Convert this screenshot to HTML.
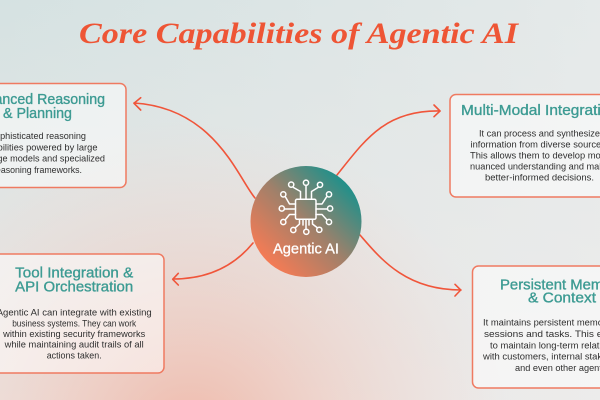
<!DOCTYPE html>
<html><head><meta charset="utf-8"><style>
html,body{margin:0;padding:0;width:600px;height:400px;overflow:hidden;background:#e3e6e5}
svg{display:block}
.t{font-family:"Liberation Sans",sans-serif;font-size:14.5px;fill:#3d9b93;stroke:#3d9b93;stroke-width:0.35;text-anchor:middle}
.b{font-family:"Liberation Sans",sans-serif;font-size:9px;fill:#2f2f2f;text-anchor:middle}
</style></head><body>
<svg width="600" height="400" viewBox="0 0 600 400" xmlns="http://www.w3.org/2000/svg">
<defs>
<linearGradient id="bg" x1="0" y1="0" x2="0" y2="1">
<stop offset="0" stop-color="#d5e2e2"/><stop offset="0.5" stop-color="#e1e5e4"/><stop offset="1" stop-color="#ebe8e6"/>
</linearGradient>
<linearGradient id="bgr" x1="0" y1="0" x2="1" y2="0">
<stop offset="0" stop-color="#e9eaea" stop-opacity="0"/><stop offset="1" stop-color="#eceded" stop-opacity="0.7"/>
</linearGradient>
<radialGradient id="pink" gradientUnits="userSpaceOnUse" cx="190" cy="440" r="320">
<stop offset="0" stop-color="#f0b3a2" stop-opacity="0.9"/><stop offset="0.45" stop-color="#f0c2b5" stop-opacity="0.5"/><stop offset="1" stop-color="#f0d0c8" stop-opacity="0"/>
</radialGradient>
<linearGradient id="circ" x1="0.15" y1="0.85" x2="0.85" y2="0.15">
<stop offset="0" stop-color="#f47b55"/><stop offset="0.5" stop-color="#a0806a"/><stop offset="1" stop-color="#22908a"/>
</linearGradient>
</defs>
<rect width="600" height="400" fill="url(#bg)"/>
<rect width="600" height="400" fill="url(#bgr)"/>
<rect width="600" height="400" fill="url(#pink)"/>

<text x="298.5" y="43" font-family="'Liberation Serif',serif" font-style="italic" font-weight="bold" font-size="30" fill="#ee5535" text-anchor="middle" textLength="439" lengthAdjust="spacingAndGlyphs">Core Capabilities of Agentic AI</text>

<!-- connectors -->
<g fill="none" stroke="#f0553a" stroke-width="1.6" stroke-linecap="round" stroke-linejoin="round">
<path d="M255,198 C238,178 215,108 134,103"/>
<path d="M140.7,97.7 L134,103.3 L140.7,110"/>
<path d="M337,175 C365,140 385,110 440,111"/>
<path d="M434,105 L440,111 L434,116.7"/>
<path d="M253,243 C235,265 210,279 173,279"/>
<path d="M178.3,273.3 L172.7,279.3 L178.3,285"/>
<path d="M360,235 C380,258 405,290 461,290"/>
<path d="M455,284.3 L460.7,290 L455,296"/>
</g>

<!-- boxes -->
<g fill="#ffffff" fill-opacity="0.5" stroke="#ef7a61" stroke-width="1.5">
<rect x="-51" y="83.5" width="177" height="104" rx="6"/>
<rect x="450" y="94.5" width="180" height="102.5" rx="6"/>
<rect x="-16" y="254" width="180" height="119" rx="6"/>
<rect x="472.5" y="266" width="180" height="122" rx="6"/>
</g>

<!-- box1 -->
<text class="t" x="37.5" y="104" textLength="135" lengthAdjust="spacingAndGlyphs">Advanced Reasoning</text>
<text class="t" x="37.5" y="118" textLength="69" lengthAdjust="spacingAndGlyphs">&amp; Planning</text>
<text class="b" x="37.5" y="139" textLength="97" lengthAdjust="spacingAndGlyphs">Sophisticated reasoning</text>
<text class="b" x="37.5" y="150.3" textLength="120" lengthAdjust="spacingAndGlyphs">capabilities powered by large</text>
<text class="b" x="37.5" y="161.6" textLength="135" lengthAdjust="spacingAndGlyphs">language models and specialized</text>
<text class="b" x="37.5" y="173" textLength="89" lengthAdjust="spacingAndGlyphs">reasoning frameworks.</text>

<!-- box2 -->
<text class="t" x="539.5" y="115" textLength="157" lengthAdjust="spacingAndGlyphs">Multi-Modal Integration</text>
<text class="b" x="539.5" y="136.5" textLength="121" lengthAdjust="spacingAndGlyphs">It can process and synthesize</text>
<text class="b" x="539.5" y="147.5" textLength="138" lengthAdjust="spacingAndGlyphs">information from diverse sources.</text>
<text class="b" x="539.5" y="158.5" textLength="139" lengthAdjust="spacingAndGlyphs">This allows them to develop more</text>
<text class="b" x="539.5" y="169.5" textLength="139" lengthAdjust="spacingAndGlyphs">nuanced understanding and make</text>
<text class="b" x="539.5" y="180.5" textLength="109" lengthAdjust="spacingAndGlyphs">better-informed decisions.</text>

<!-- box3 -->
<text class="t" x="74.2" y="277.5" textLength="118" lengthAdjust="spacingAndGlyphs">Tool Integration &amp;</text>
<text class="t" x="74.2" y="291.5" textLength="118" lengthAdjust="spacingAndGlyphs">API Orchestration</text>
<text class="b" x="74.2" y="315.7" textLength="155" lengthAdjust="spacingAndGlyphs">Agentic AI can integrate with existing</text>
<text class="b" x="74.2" y="326.3" textLength="124" lengthAdjust="spacingAndGlyphs">business systems. They can work</text>
<text class="b" x="74.2" y="337" textLength="142" lengthAdjust="spacingAndGlyphs">within existing security frameworks</text>
<text class="b" x="74.2" y="347.6" textLength="139" lengthAdjust="spacingAndGlyphs">while maintaining audit trails of all</text>
<text class="b" x="74.2" y="358.3" textLength="55" lengthAdjust="spacingAndGlyphs">actions taken.</text>

<!-- box4 -->
<text class="t" x="562" y="289.3" textLength="124" lengthAdjust="spacingAndGlyphs">Persistent Memory</text>
<text class="t" x="562" y="302.7" textLength="68" lengthAdjust="spacingAndGlyphs">&amp; Context</text>
<text class="b" x="562" y="325.7" textLength="158" lengthAdjust="spacingAndGlyphs">It maintains persistent memory across</text>
<text class="b" x="562" y="337" textLength="156" lengthAdjust="spacingAndGlyphs">sessions and tasks. This enables it</text>
<text class="b" x="562" y="348.4" textLength="144" lengthAdjust="spacingAndGlyphs">to maintain long-term relationships</text>
<text class="b" x="562" y="359.7" textLength="158" lengthAdjust="spacingAndGlyphs">with customers, internal stakeholders,</text>
<text class="b" x="562" y="371" textLength="94" lengthAdjust="spacingAndGlyphs">and even other agents.</text>

<!-- center circle -->
<circle cx="306" cy="221.5" r="55.5" fill="url(#circ)"/>
<g fill="none" stroke="#ffffff" stroke-width="1.5" stroke-linecap="round" stroke-linejoin="round">
<rect x="295.5" y="199.3" width="20.5" height="20" rx="1.5"/>
<path d="M306,199.3 V185.5"/><circle cx="306" cy="182.7" r="2.6"/>
<path d="M300.5,199.3 V191.5 L293.5,187.5"/><circle cx="291.2" cy="184.6" r="2.6"/>
<path d="M311.5,199.3 V191.5 L318,187.5"/><circle cx="320" cy="184.8" r="2.6"/>
<path d="M295.5,204 H289.5 L285.5,197"/><circle cx="283.3" cy="194.4" r="2.6"/>
<path d="M295.5,209 H284.5"/><circle cx="281.8" cy="208.5" r="2.6"/>
<path d="M295.5,214.5 H289.5 L285.5,219.5"/><circle cx="283.3" cy="222" r="2.6"/>
<path d="M316,204 H322 L326.5,197"/><circle cx="329" cy="194.4" r="2.6"/>
<path d="M316,209 H327.3"/><circle cx="330.1" cy="208.5" r="2.6"/>
<path d="M316,214.5 H322 L326.5,219.5"/><circle cx="329" cy="222" r="2.6"/>
<path d="M299.5,219.3 V224 L295.3,227.8"/><circle cx="293.3" cy="230" r="2.6"/>
<path d="M303,219.3 V225"/><path d="M309,219.3 V225"/>
<path d="M306,219.3 V229"/><circle cx="306.3" cy="231.8" r="2.6"/>
<path d="M312.5,219.3 V224 L317,227.5"/><circle cx="319.3" cy="229.8" r="2.6"/>
</g>
<text x="306" y="253.5" font-family="'Liberation Sans',sans-serif" font-size="14.5" fill="#ffffff" stroke="#ffffff" stroke-width="0.3" text-anchor="middle" textLength="66" lengthAdjust="spacingAndGlyphs">Agentic AI</text>
</svg>
</body></html>
